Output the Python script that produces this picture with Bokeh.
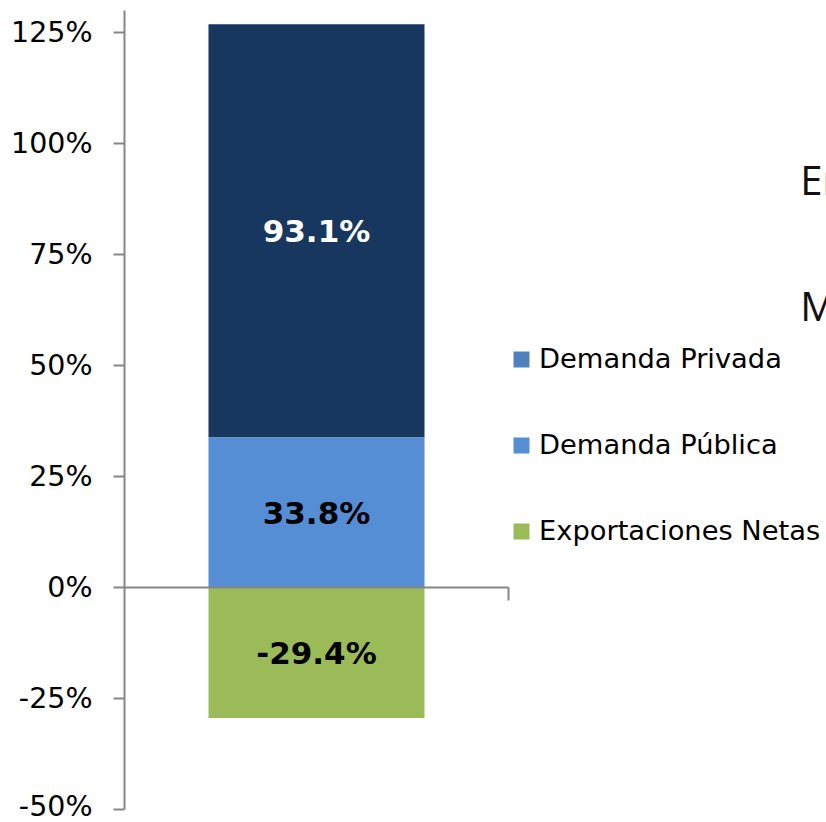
import numpy as np
from bokeh.plotting import figure
from bokeh.models import (Range1d, LinearAxis, FixedTicker, PrintfTickFormatter,
                          ColumnDataSource, Legend, LegendItem, Label)
from bokeh.core.properties import value
from bokeh.embed import file_html
from bokeh.resources import INLINE

# ---- data ----
categories = ["Contribución"]
series = ["Demanda Privada", "Demanda Pública", "Exportaciones Netas"]
values = [93.1, 33.8, -29.4]
bar_colors = ["#17375E", "#558ED5", "#9BBB59"]
legend_colors = ["#4F81BD", "#558ED5", "#9BBB59"]
label_colors = ["white", "black", "black"]
y_ticks = [-50, -25, 0, 25, 50, 75, 100, 125]
side_texts = ["En", "M"]

# stacking order: Pública at base (positive), Privada on top, Netas negative
vals = np.array(values)
pub = vals[1]
bottoms = [pub, 0.0, vals[2]]
tops = [pub + vals[0], pub, 0.0]
mids = [(b + t) / 2 for b, t in zip(bottoms, tops)]

W, H = 826, 822
left, top, bottom = 124, 10, 13
frame_w = W - left
cat_px = 384.0
n_cat = len(categories)
p = figure(width=W, height=H, output_backend="svg", toolbar_location=None,
           x_range=Range1d(0, frame_w / cat_px * n_cat), y_range=Range1d(-50, 130),
           x_axis_location=None, y_axis_location=None,
           min_border_left=left, min_border_right=0, min_border_top=top, min_border_bottom=bottom)
p.outline_line_color = None
p.xgrid.visible = False
p.ygrid.visible = False
p.background_fill_color = "white"

src = ColumnDataSource(dict(x=[0.5] * 3, bottom=bottoms, top=tops, color=bar_colors,
                            ly=mids, txt=[f"{v:.1f}%" for v in values], tc=label_colors))
p.vbar(x="x", bottom="bottom", top="top", width=0.5625, fill_color="color",
       line_color=None, source=src)
p.text(x="x", y="ly", text="txt", text_color="tc", source=src,
       text_align="center", text_baseline="middle",
       text_font=value("DejaVu Sans"), text_font_style="bold", text_font_size="31px")

# y axis
yax = LinearAxis(ticker=FixedTicker(ticks=y_ticks),
                 formatter=PrintfTickFormatter(format="%d%%"))
yax.axis_line_color = "#868686"
yax.axis_line_width = 2
yax.major_tick_line_color = "#868686"
yax.major_tick_line_width = 2
yax.major_tick_out = 11
yax.major_tick_in = 0
yax.minor_tick_out = 0
yax.minor_tick_in = 0
yax.major_label_standoff = 21
yax.major_label_text_font = "DejaVu Sans"
yax.major_label_text_font_size = "28.5px"
yax.major_label_text_color = "black"
p.add_layout(yax, "left")

# zero (category) axis
xax = LinearAxis(fixed_location=0, bounds=(0, n_cat), ticker=FixedTicker(ticks=[n_cat]))
xax.axis_line_color = "#868686"
xax.axis_line_width = 2
xax.major_tick_line_color = "#868686"
xax.major_tick_line_width = 2
xax.major_tick_out = 13
xax.major_tick_in = 0
xax.minor_tick_out = 0
xax.minor_tick_in = 0
xax.major_label_text_color = None
xax.major_label_standoff = 0
p.add_layout(xax, "below")

# legend with swatches (hidden helper renderers carry the swatch colours)
items = []
for name, c, v in zip(series, legend_colors, values):
    r = p.vbar(x=[0.5], top=[v], width=0.1, fill_color=c, line_color=None)
    r.visible = False
    items.append(LegendItem(label=name, renderers=[r]))
legend = Legend(items=items, location=(387, 263), orientation="vertical",
                glyph_width=20, glyph_height=20, label_standoff=8, spacing=55,
                padding=0, margin=0, border_line_color=None, background_fill_alpha=0,
                label_text_font="DejaVu Sans", label_text_font_size="27.3px",
                label_text_color="black")
p.add_layout(legend)

for t, yv in zip(side_texts, [92, 63.5]):
    p.add_layout(Label(x=1.76, y=yv, text=t, text_baseline="middle",
                       text_font="Open Sans", text_font_size="40px", text_color="#111111"))

open("out.html", "w").write(file_html(p, INLINE))
